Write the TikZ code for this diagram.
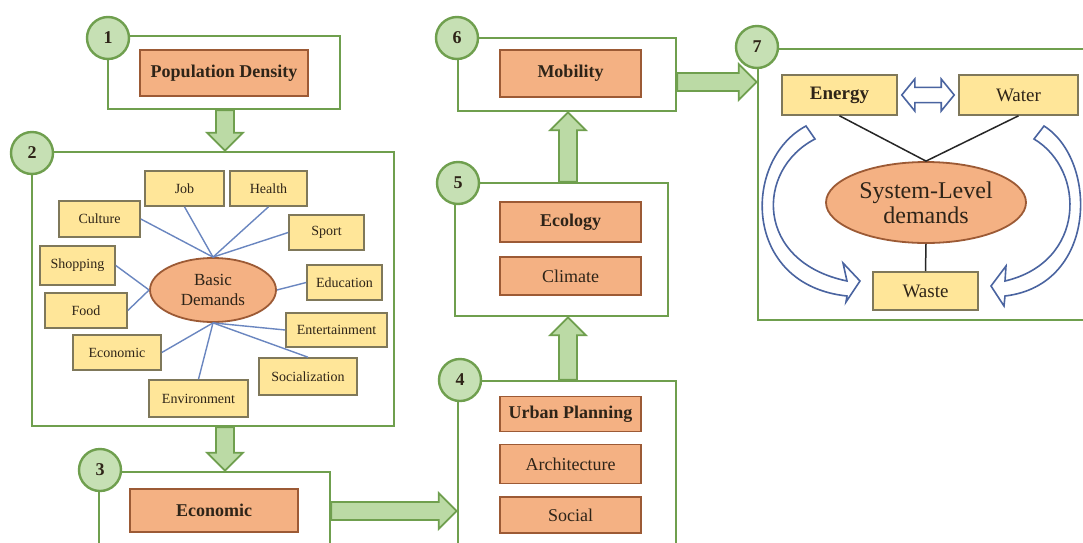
\documentclass[tikz,border=0pt]{standalone}
\usepackage{fontspec}
\setmainfont{Liberation Serif}
\usetikzlibrary{calc,fit,shapes.geometric}

\definecolor{frameg}{HTML}{6F9F4E}
\definecolor{numfill}{HTML}{C6E0B4}
\definecolor{arrfill}{HTML}{BBDAA5}
\definecolor{orfill}{HTML}{F4B183}
\definecolor{ordraw}{HTML}{9C5A35}
\definecolor{yefill}{HTML}{FFE699}
\definecolor{yedraw}{HTML}{7F785A}
\definecolor{spoke}{HTML}{6A86C0}
\definecolor{cyc}{HTML}{4A64A0}
\definecolor{ink}{HTML}{2E2418}

% block arrow dimensions
\def\shaftw{4.5pt}
\def\headw{9pt}
\def\headl{9pt}
% twin arrow dimensions
\def\ts{3.8pt}
\def\tw{8pt}
\def\tl{6.5pt}

% straight block arrow from #2 to #3
\newcommand{\blockarrow}[3][]{%
  \path #2 coordinate (ba-a) #3 coordinate (ba-b);
  \path ($(ba-b)!\headl!(ba-a)$) coordinate (ba-h);
  \draw[blockarr,#1] ($(ba-a)!\shaftw!90:(ba-b)$) -- ($(ba-h)!\shaftw!-90:(ba-a)$)
    -- ($(ba-h)!\headw!-90:(ba-a)$) -- (ba-b) -- ($(ba-h)!\headw!90:(ba-a)$)
    -- ($(ba-h)!\shaftw!90:(ba-a)$) -- ($(ba-a)!\shaftw!-90:(ba-b)$) -- cycle;
}
% block arrow with a head at both ends
\newcommand{\twinarrow}[3][]{%
  \path #2 coordinate (ta-a) #3 coordinate (ta-b);
  \path ($(ta-a)!\tl!(ta-b)$) coordinate (ta-ha) ($(ta-b)!\tl!(ta-a)$) coordinate (ta-hb);
  \draw[#1] (ta-a) -- ($(ta-ha)!\tw!90:(ta-b)$) -- ($(ta-ha)!\ts!90:(ta-b)$)
    -- ($(ta-hb)!\ts!-90:(ta-a)$) -- ($(ta-hb)!\tw!-90:(ta-a)$) -- (ta-b)
    -- ($(ta-hb)!\tw!90:(ta-a)$) -- ($(ta-hb)!\ts!90:(ta-a)$)
    -- ($(ta-ha)!\ts!-90:(ta-b)$) -- ($(ta-ha)!\tw!-90:(ta-b)$) -- cycle;
}

\begin{document}
\begin{tikzpicture}[x=0.5pt,y=-0.5pt,
  every node/.style={text=ink},
  frame/.style={draw=frameg,line width=1.3pt,fill=white,inner sep=0pt,rectangle},
  num/.style={circle,draw=frameg,line width=1.2pt,fill=numfill,minimum size=21pt,
    inner sep=0pt,font=\fontsize{9}{10}\selectfont\bfseries},
  obox/.style={draw=ordraw,line width=0.9pt,fill=orfill,inner sep=0pt,
    font=\fontsize{9}{10}\selectfont},
  ybox/.style={draw=yedraw,line width=0.8pt,fill=yefill,inner sep=0pt,
    font=\fontsize{7}{8}\selectfont},
  ybig/.style={ybox,font=\fontsize{9.5}{11}\selectfont},
  oell/.style={ellipse,draw=ordraw,line width=0.9pt,fill=orfill,inner sep=0pt,align=center},
  blockarr/.style={draw=frameg,line width=0.9pt,fill=arrfill,line join=miter},
  spk/.style={draw=spoke,line width=0.7pt},
  blk/.style={draw=black!85,line width=0.75pt},
  hollow/.style={draw=cyc,line width=0.8pt,fill=white,line join=miter},
]
\clip (0,0) rectangle (1083,542);
\fill[white] (0,0) rectangle (1083,542);

% stage frames
\node[frame,fit={(108,36) (340,109)}] (f1) {};
\node[frame,fit={(32,152) (394,426)}] (f2) {};
\node[frame,fit={(99,472) (330,570)}] (f3) {};
\node[frame,fit={(458,381) (676,570)}] (f4) {};
\node[frame,fit={(455,183) (668,316)}] (f5) {};
\node[frame,fit={(458,38) (676,111)}] (f6) {};
\node[frame,fit={(758,49) (1100,320)}] (f7) {};

% guide lines for the block arrows
\coordinate (colA) at (225,0);
\coordinate (colB) at (568,0);
\coordinate (rowE) at (0,511);
\coordinate (rowF) at (0,82);

% stage contents
\node[obox,minimum width=84pt,minimum height=23pt,font=\fontsize{9}{10}\selectfont\bfseries] (pd) at (224,73) {Population Density};
\node[obox,minimum width=84pt,minimum height=21.5pt,font=\fontsize{9}{10}\selectfont\bfseries] (econ) at (214,510.5) {Economic};
\node[obox,minimum width=70.5pt,minimum height=23.5pt,font=\fontsize{9}{10}\selectfont\bfseries] (mob) at (570.5,73.5) {Mobility};
\node[obox,minimum width=70.5pt,minimum height=20pt,font=\fontsize{9}{10}\selectfont\bfseries] (eco) at (570.5,222) {Ecology};
\node[obox,minimum width=70.5pt,minimum height=19pt] (cli) at (570.5,276) {Climate};
\node[obox,minimum width=70.5pt,minimum height=17.5pt,font=\fontsize{9}{10}\selectfont\bfseries] (urb) at (570.5,414) {Urban Planning};
\node[obox,minimum width=70.5pt,minimum height=19.5pt] (arch) at (570.5,464) {Architecture};
\node[obox,minimum width=70.5pt,minimum height=18pt] (soc) at (570.5,515) {Social};

% basic demands
\node[oell,minimum width=63pt,minimum height=32pt,font=\fontsize{8.5}{10}\selectfont] (bd) at (213,290) {Basic\\Demands};
\node[ybox,minimum width=39.5pt,minimum height=17.5pt] (job) at (184.5,188.5) {Job};
\node[ybox,minimum width=38.5pt,minimum height=17.5pt] (health) at (268.5,188.5) {Health};
\node[ybox,minimum width=40.5pt,minimum height=18pt] (culture) at (99.5,219) {Culture};
\node[ybox,minimum width=37.5pt,minimum height=17.5pt] (sport) at (326.5,232.5) {Sport};
\node[ybox,minimum width=37.5pt,minimum height=19.5pt] (shop) at (77.5,265.5) {Shopping};
\node[ybox,minimum width=37.5pt,minimum height=17.5pt] (edu) at (344.5,282.5) {Education};
\node[ybox,minimum width=41pt,minimum height=17.5pt] (food) at (86,310.5) {Food};
\node[ybox,minimum width=50.5pt,minimum height=17pt] (ent) at (336.5,330) {Entertainment};
\node[ybox,minimum width=44pt,minimum height=17.5pt] (ecn) at (117,352.5) {Economic};
\node[ybox,minimum width=49pt,minimum height=18.5pt] (socz) at (308,376.5) {Socialization};
\node[ybox,minimum width=49.5pt,minimum height=18.5pt] (env) at (198.5,398.5) {Environment};

\draw[spk] (culture.east) -- (bd.north);
\draw[spk] (job.south) -- (bd.north);
\draw[spk] (health.south) -- (bd.north);
\draw[spk] (sport.west) -- (bd.north);
\draw[spk] (shop.east) -- (bd.west);
\draw[spk] (food.east) -- (bd.west);
\draw[spk] (edu.west) -- (bd.east);
\draw[spk] (ent.west) -- (bd.south);
\draw[spk] (ecn.east) -- (bd.south);
\draw[spk] (env.north) -- (bd.south);
\draw[spk] (socz.north) -- (bd.south);

% system-level demands
\node[ybig,minimum width=57.5pt,minimum height=20pt,font=\fontsize{9.5}{11}\selectfont\bfseries] (energy) at (839.5,95) {Energy};
\node[ybig,minimum width=59.5pt,minimum height=20pt] (water) at (1018.5,95) {Water};
\node[ybig,minimum width=52.5pt,minimum height=19pt] (waste) at (925.5,291) {Waste};
\node[oell,minimum width=100pt,minimum height=40.5pt,font=\fontsize{12}{12.5}\selectfont] (sys) at (926,202.5) {System-Level\\demands};

\draw[blk] (energy.south) -- (sys.north);
\draw[blk] (water.south) -- (sys.north);
\draw[blk] (sys.south) -- (waste.north);

\twinarrow[hollow]{($(energy.east)+(4,0)$)}{($(water.west)+(-4,0)$)}

% cycle arrows round the demands
\draw[hollow] (806,126) .. controls (742,160) and (742,285) .. (847,296)
  -- (846,302) -- (860,281) -- (843,263) -- (847,281)
  .. controls (755,262) and (755,170) .. (815,139) -- cycle;
\draw[hollow] (1044,126) .. controls (1098,160) and (1098,285) .. (1005,296)
  -- (1004,306) -- (991,286) -- (1006,266) -- (1005,281)
  .. controls (1086,262) and (1086,170) .. (1034,139) -- cycle;

% flow between stages
\blockarrow{(colA |- f1.south)}{(colA |- f2.north)}
\blockarrow{(colA |- f2.south)}{(colA |- f3.north)}
\blockarrow{(f3.east |- rowE)}{(f4.west |- rowE)}
\blockarrow{(colB |- f4.north)}{(colB |- f5.south)}
\blockarrow{(colB |- f5.north)}{(colB |- f6.south)}
\blockarrow{(f6.east |- rowF)}{(f7.west |- rowF)}

% stage numbers
\node[num] (n1) at (108,38) {1};
\node[num] (n2) at (32,153) {2};
\node[num] (n3) at (100,470) {3};
\node[num] (n4) at (460,380) {4};
\node[num] (n5) at (458,183) {5};
\node[num] (n6) at (457,38) {6};
\node[num] (n7) at (757,47) {7};
\end{tikzpicture}
\end{document}
